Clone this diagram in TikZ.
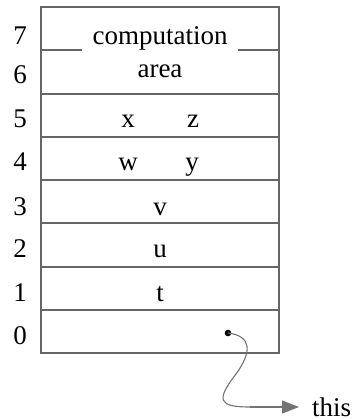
\documentclass[tikz,border=0pt]{standalone}
\usepackage{fontspec}
\setmainfont{Liberation Serif}
\usetikzlibrary{arrows.meta}
\begin{document}
\begin{tikzpicture}[x=1pt,y=-1pt,
  txt/.style={font=\fontsize{27}{32}\selectfont, inner sep=0pt, anchor=base},
  rule/.style={draw=black!60, line width=1.3pt},
  link/.style={draw=black!55, line width=1.1pt}]
\useasboundingbox (0,0) rectangle (354,419);
% box
\draw[rule] (41,7) rectangle (279,353);
\foreach \yy in {94,137,180,223,267,310} \draw[rule] (41,\yy) -- (279,\yy);
\draw[rule] (41,50) -- (82,50);
\draw[rule] (238,50) -- (279,50);
% index labels
\node[txt] (l7) at (20,45) {7};
\node[txt] (l6) at (20,84) {6};
\node[txt] (l5) at (20,128) {5};
\node[txt] (l4) at (20,171) {4};
\node[txt] (l3) at (20,215) {3};
\node[txt] (l2) at (20,257) {2};
\node[txt] (l1) at (20,301) {1};
\node[txt] (l0) at (20,344) {0};
% contents
\node[txt] (comp) at (160,45) {computation};
\node[txt] (area) at (160,78) {area};
\node[txt] (x) at (128,128) {x};
\node[txt] (z) at (193,128) {z};
\node[txt] (w) at (128,171) {w};
\node[txt] (y) at (192,171) {y};
\node[txt] (v) at (160,215) {v};
\node[txt] (u) at (160,257) {u};
\node[txt] (t) at (160,301) {t};
% pointer
\coordinate (dot) at (228,333);
\fill (dot) circle (3.3);
\node[txt, anchor=west] (this) at (312,407) {\raisebox{-0.33em}{this}};
\coordinate (bend) at (250,407);
\draw[link] (dot) .. controls (252,336) and (252,352) .. (236,374)
  .. controls (216,400) and (218,407) .. (bend);
\draw[link, -{Triangle[length=17pt,width=13pt]}, shorten >=13pt] (bend) -- (this.west);
\end{tikzpicture}
\end{document}
